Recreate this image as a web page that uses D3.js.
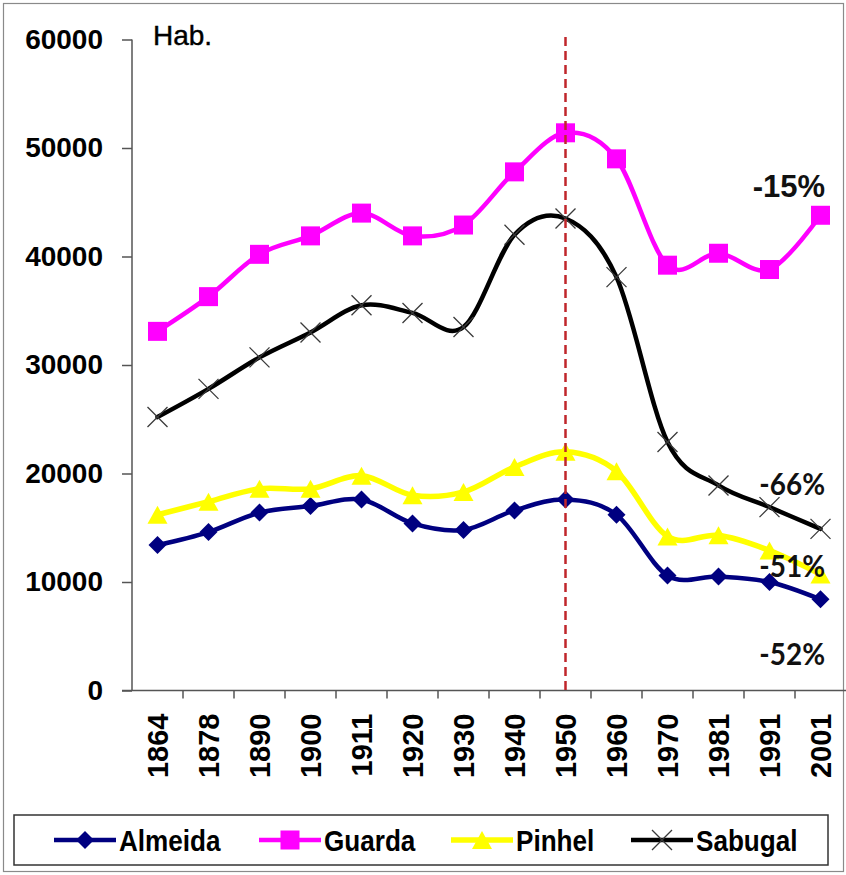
<!DOCTYPE html>
<html>
<head>
<meta charset="utf-8">
<script src="https://cdn.jsdelivr.net/npm/d3@7"></script>
<style>
  html, body { margin: 0; padding: 0; background: #fff; }
  svg { display: block; }
</style>
</head>
<body>
<svg id="chart" width="846" height="875"></svg>
<script>
// Census years (category axis)
const years = ["1864","1878","1890","1900","1911","1920","1930","1940","1950","1960","1970","1981","1991","2001"];

// Resident population per municipality
const almeida = [13400, 14600, 16400, 17000, 17600, 15400, 14800, 16600, 17600, 16200, 10600, 10500, 10000, 8400];
const guarda  = [33100, 36300, 40200, 41900, 44000, 41900, 42900, 47800, 51400, 49000, 39200, 40300, 38800, 43800];
const pinhel  = [16200, 17400, 18600, 18600, 19800, 18000, 18300, 20600, 22000, 20200, 14200, 14300, 12900, 10700];
const sabugal = [25200, 27800, 30700, 33000, 35500, 34800, 33500, 42000, 43500, 38100, 22900, 18900, 16900, 14900];

const seriesNames = ["Almeida", "Guarda", "Pinhel", "Sabugal"];
const yTicks = [0, 10000, 20000, 30000, 40000, 50000, 60000];
const peakYear = "1950";
const lastYear = "2001";

const svg = d3.select("#chart");

// outer chart frame
svg.append("rect")
  .attr("x", 3.5).attr("y", 3.5).attr("width", 840).attr("height", 868)
  .attr("fill", "#fff").attr("stroke", "#8a8a8a").attr("stroke-width", 1.2);

const x = d3.scaleBand().domain(years).range([132, 846]).padding(0);
const y = d3.scaleLinear().domain([0, 60000]).range([690.5, 39.5]);
const cx = yr => x(yr) + x.bandwidth() / 2;

// y axis
const yAxis = svg.append("g").attr("transform", "translate(132,0)")
  .call(d3.axisLeft(y).tickValues(yTicks).tickSize(10).tickPadding(19).tickFormat(d3.format("d")));
yAxis.select(".domain").attr("stroke", "#555").attr("stroke-width", 1.5).attr("d", "M0,39.5V690.5");
yAxis.selectAll(".tick line").attr("stroke", "#555").attr("stroke-width", 1.5);
yAxis.selectAll(".tick text")
  .attr("font-family", "'Liberation Sans', Arial, sans-serif")
  .attr("font-weight", "bold").attr("font-size", 28).attr("fill", "#000");

// x axis: ticks between categories
const xAxisG = svg.append("g").attr("transform", "translate(0,690.5)");
xAxisG.append("line").attr("x1", 122).attr("x2", 846).attr("y1", 0).attr("y2", 0)
  .attr("stroke", "#555").attr("stroke-width", 1.5);
years.forEach((yr, i) => {
  const xb = x(yr);
  if (i > 0) {
    xAxisG.append("line").attr("x1", xb).attr("x2", xb).attr("y1", 0).attr("y2", 8)
      .attr("stroke", "#555").attr("stroke-width", 1.5);
  }
});
xAxisG.selectAll("text.year").data(years).enter().append("text")
  .attr("class", "year")
  .attr("transform", d => `translate(${cx(d) + 10},${23}) rotate(-90)`)
  .attr("text-anchor", "end")
  .attr("font-family", "'Liberation Sans', Arial, sans-serif")
  .attr("font-weight", "bold").attr("font-size", 29).attr("fill", "#000")
  .text(d => d);

// y axis unit
svg.append("text").attr("x", 153).attr("y", 45)
  .attr("font-family", "'Liberation Sans', Arial, sans-serif")
  .attr("font-size", 28).attr("fill", "#000").attr("stroke", "#000").attr("stroke-width", 0.4)
  .text("Hab.");

// series
const series = [
  { name: "Almeida", values: almeida, color: "#000080", width: 4.5, marker: "diamond" },
  { name: "Guarda",  values: guarda,  color: "#ff00ff", width: 4.5, marker: "square" },
  { name: "Pinhel",  values: pinhel,  color: "#ffff00", width: 5.5, marker: "triangle" },
  { name: "Sabugal", values: sabugal, color: "#000000", width: 4.5, marker: "cross" }
];

const line = d3.line()
  .x((d, i) => cx(years[i]))
  .y(d => y(d))
  .curve(d3.curveCardinal.tension(0));

function drawMarker(g, type, px, py, color) {
  if (type === "diamond") {
    const r = 9;
    g.append("path").attr("d", `M${px},${py - r}L${px + r},${py}L${px},${py + r}L${px - r},${py}Z`)
      .attr("fill", color);
  } else if (type === "square") {
    const s = 19;
    g.append("rect").attr("x", px - s / 2).attr("y", py - s / 2).attr("width", s).attr("height", s)
      .attr("fill", color);
  } else if (type === "triangle") {
    const w = 20, h = 18;
    g.append("path").attr("d", `M${px},${py - h / 2}L${px + w / 2},${py + h / 2}L${px - w / 2},${py + h / 2}Z`)
      .attr("fill", color);
  } else if (type === "cross") {
    const r = 10;
    g.append("path").attr("d", `M${px - r},${py - r}L${px + r},${py + r}M${px - r},${py + r}L${px + r},${py - r}`)
      .attr("stroke", "#3a3a3a").attr("stroke-width", 1.3).attr("fill", "none");
  }
}

series.forEach(s => {
  const g = svg.append("g").attr("class", "series");
  g.append("path").datum(s.values).attr("d", line)
    .attr("fill", "none").attr("stroke", s.color).attr("stroke-width", s.width)
    .attr("stroke-linejoin", "round").attr("stroke-linecap", "round");
  s.values.forEach((v, i) => drawMarker(g, s.marker, cx(years[i]), y(v), s.color));
});

// reference line at the population peak year
svg.append("line")
  .attr("x1", cx(peakYear)).attr("x2", cx(peakYear))
  .attr("y1", 37).attr("y2", 690)
  .attr("stroke", "#c0262b").attr("stroke-width", 2.5).attr("stroke-dasharray", "9,5");

// change from peak year to last census
const iPeak = years.indexOf(peakYear), iLast = years.indexOf(lastYear);
const pct = vals => Math.round((vals[iLast] - vals[iPeak]) / vals[iPeak] * 100);
const changeLabels = [
  { values: guarda,  dy: -18, font: "'Liberation Sans', Arial, sans-serif", size: 31, weight: "bold", sx: 1 },
  { values: sabugal, dy: -34, font: "Lato, 'Open Sans', sans-serif", size: 31, weight: "bold", sx: 0.9 },
  { values: pinhel,  dy: 3,   font: "Lato, 'Open Sans', sans-serif", size: 31, weight: "bold", sx: 0.9 },
  { values: almeida, dy: 66,  font: "Lato, 'Open Sans', sans-serif", size: 31, weight: "bold", sx: 0.9 }
];
changeLabels.forEach(l => {
  svg.append("text")
    .attr("transform", `translate(825,${y(l.values[iLast]) + l.dy}) scale(${l.sx},1)`)
    .attr("text-anchor", "end")
    .attr("font-family", l.font).attr("font-weight", l.weight)
    .attr("font-size", l.size).attr("fill", "#111")
    .text(`${pct(l.values)}%`);
});

// legend
const legend = svg.append("g");
legend.append("rect").attr("x", 14).attr("y", 815).attr("width", 814).attr("height", 50)
  .attr("fill", "#fff").attr("stroke", "#333").attr("stroke-width", 1.5);
const legendX = [54, 259, 451, 631];
series.forEach((s, i) => {
  const lx = legendX[i], ly = 840;
  const lg = legend.append("g");
  lg.append("line").attr("x1", lx).attr("x2", lx + 62).attr("y1", ly).attr("y2", ly)
    .attr("stroke", s.color).attr("stroke-width", s.width);
  drawMarker(lg, s.marker, lx + 31, ly, s.color);
  lg.append("text")
    .attr("transform", `translate(${lx + 65},${ly + 11}) scale(0.87,1)`)
    .attr("font-family", "'Liberation Sans', Arial, sans-serif")
    .attr("font-weight", "bold").attr("font-size", 30).attr("fill", "#000")
    .text(s.name);
});
</script>
</body>
</html>
